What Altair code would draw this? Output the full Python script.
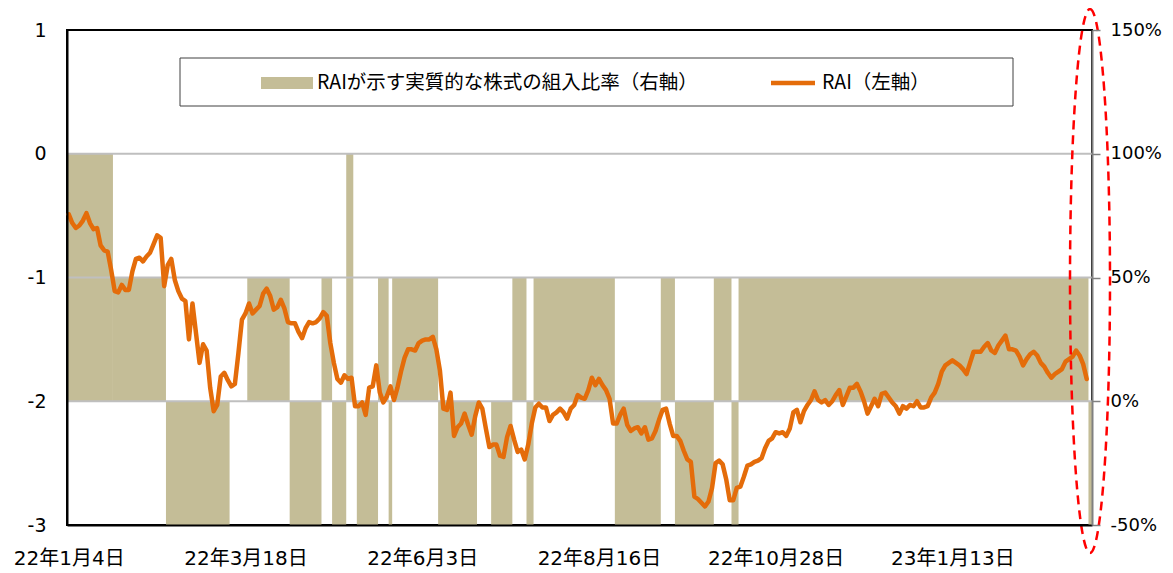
import json
import altair as alt
import pandas as pd

# ---------------- data ----------------
x_tick_labels = ["22年1月4日", "22年3月18日", "22年6月3日", "22年8月16日", "22年10月28日", "23年1月13日"]
x_tick_step = 50

rai_values = [
    -0.49, -0.56, -0.60, -0.58, -0.54, -0.48, -0.56, -0.61, -0.60, -0.74,
    -0.78, -0.79, -0.94, -1.11, -1.12, -1.06, -1.10, -1.10, -0.95, -0.85,
    -0.84, -0.87, -0.83, -0.80, -0.73, -0.66, -0.68, -1.07, -0.90, -0.85,
    -1.02, -1.11, -1.17, -1.19, -1.50, -1.21, -1.45, -1.69, -1.54, -1.59,
    -1.89, -2.08, -2.03, -1.80, -1.77, -1.83, -1.88, -1.86, -1.61, -1.34,
    -1.29, -1.21, -1.29, -1.26, -1.23, -1.13, -1.09, -1.15, -1.26, -1.24,
    -1.18, -1.25, -1.36, -1.37, -1.37, -1.44, -1.49, -1.41, -1.36, -1.37,
    -1.36, -1.33, -1.28, -1.31, -1.53, -1.69, -1.82, -1.85, -1.79, -1.82,
    -1.81, -2.04, -2.04, -2.01, -2.11, -1.89, -1.88, -1.71, -1.93, -2.01,
    -1.96, -1.88, -1.99, -1.89, -1.76, -1.65, -1.58, -1.58, -1.59, -1.53,
    -1.51, -1.50, -1.50, -1.48, -1.58, -1.75, -2.06, -2.07, -1.93, -2.28,
    -2.21, -2.18, -2.10, -2.19, -2.27, -2.12, -2.01, -2.06, -2.22, -2.37,
    -2.35, -2.35, -2.44, -2.45, -2.29, -2.20, -2.31, -2.41, -2.39, -2.47,
    -2.35, -2.18, -2.05, -2.02, -2.05, -2.05, -2.16, -2.11, -2.09, -2.06,
    -2.09, -2.14, -2.06, -2.03, -1.95, -1.97, -1.98, -1.91, -1.81, -1.87,
    -1.82, -1.87, -1.91, -1.98, -2.18, -2.18, -2.11, -2.06, -2.19, -2.24,
    -2.22, -2.21, -2.26, -2.21, -2.31, -2.30, -2.24, -2.15, -2.07, -2.06,
    -2.18, -2.28, -2.28, -2.32, -2.40, -2.47, -2.49, -2.77, -2.79, -2.82,
    -2.85, -2.81, -2.70, -2.50, -2.48, -2.51, -2.63, -2.80, -2.80, -2.70,
    -2.69, -2.61, -2.52, -2.51, -2.49, -2.48, -2.46, -2.38, -2.32, -2.30,
    -2.25, -2.26, -2.25, -2.28, -2.22, -2.09, -2.07, -2.17, -2.08, -2.03,
    -1.99, -1.92, -1.99, -2.01, -1.99, -2.03, -2.00, -1.95, -1.91, -2.03,
    -1.96, -1.89, -1.89, -1.86, -1.92, -2.00, -2.10, -2.04, -1.98, -2.04,
    -1.94, -1.93, -1.97, -2.01, -2.04, -2.10, -2.04, -2.06, -2.03, -2.04,
    -2.00, -2.05, -2.05, -2.04, -1.97, -1.93, -1.86, -1.76, -1.71, -1.69,
    -1.67, -1.69, -1.71, -1.74, -1.78, -1.69, -1.60, -1.60, -1.60, -1.56,
    -1.53, -1.59, -1.61, -1.55, -1.51, -1.47, -1.58, -1.58, -1.59, -1.64,
    -1.71, -1.66, -1.62, -1.60, -1.63, -1.69, -1.72, -1.77, -1.81, -1.78,
    -1.76, -1.74, -1.68, -1.66, -1.64, -1.59, -1.63, -1.70, -1.82,
]

# equity ratio (right axis, %) as runs: value and number of trading days
ratio_run_values = [100, 50, -50, 0, 50, -50, 50, -50, 100, 0, -50, 50, -50, 50,
                    -50, 0, -50, 50, -50, 50, -50, 50, -50, 50, -50, 50, -50]
ratio_run_lengths = [13, 15, 18, 5, 12, 9, 3, 4, 2, 1, 6, 3, 1, 13,
                     11, 4, 6, 4, 2, 23, 13, 4, 11, 5, 2, 99, 1]

left_ticks = [-3, -2, -1, 0, 1]
left_grid = [-2, -1, 0]
right_ticks = [-50, 0, 50, 100, 150]
legend_labels = ["RAIが示す実質的な株式の組入比率（右軸）", "RAI（左軸）"]

# ---------------- tables ----------------
n_days = sum(ratio_run_lengths)
line_df = pd.DataFrame({"pos": [i + 0.5 for i in range(len(rai_values))], "rai": rai_values})

starts, ends = [], []
c = 0
for L in ratio_run_lengths:
    starts.append(c)
    c += L
    ends.append(c)
bar_df = pd.DataFrame({"start": starts, "end": ends, "ratio": ratio_run_values,
                       "base": [0] * len(ratio_run_values)})
grid_df = pd.DataFrame({"g": left_grid})
one = pd.DataFrame({"k": [0]})

W, H = 1025, 495
BAR_C = "#C4BD97"
LINE_C = "#E46C0A"
FONT = "DejaVu Sans, Noto Sans CJK JP, sans-serif"
JFONT = "Noto Sans CJK JP, DejaVu Sans, sans-serif"

x_scale = alt.Scale(domain=[0, n_days], nice=False, zero=False)
label_js = json.dumps(x_tick_labels, ensure_ascii=False)
x_axis = alt.Axis(
    values=[i * x_tick_step + 0.5 for i in range(len(x_tick_labels))],
    labelExpr=f"{label_js}[round((datum.value - 0.5) / {x_tick_step})]",
    ticks=False, grid=False, domainColor="black", domainWidth=2,
    labelFontSize=20, labelPadding=23, labelColor="#000000", labelFont=FONT,
    title=None, zindex=1, labelFlush=False, labelOverlap=False,
)
left_axis = alt.Axis(
    values=left_ticks, ticks=False, grid=False, domainColor="black", domainWidth=2,
    labelExpr="datum.value < 0 ? '-' + abs(datum.value) : '' + datum.value",
    labelFontSize=19, labelPadding=21, labelColor="#000000", labelFont=FONT,
    title=None, zindex=1, orient="left",
)
right_axis = alt.Axis(
    values=right_ticks,
    labelExpr="(datum.value < 0 ? '-' + abs(datum.value) : '' + datum.value) + '%'",
    orient="right",
    tickSize=8, tickColor="#808080", tickWidth=1.5,
    domainColor="#808080", domainWidth=2, grid=False,
    labelFontSize=18, labelPadding=10, labelColor="#000000", labelFont=FONT,
    title=None, zindex=1,
)
y_left_scale = alt.Scale(domain=[-3, 1], nice=False, zero=False)

bars = alt.Chart(bar_df).mark_rect(color=BAR_C).encode(
    x=alt.X("start:Q", scale=x_scale, axis=x_axis),
    x2="end:Q",
    y=alt.Y("ratio:Q", scale=alt.Scale(domain=[-50, 150], nice=False, zero=False), axis=right_axis),
    y2="base:Q",
)

grid = alt.Chart(grid_df).mark_rule(color="#BFBFBF", strokeWidth=2).encode(
    y=alt.Y("g:Q", scale=y_left_scale, axis=left_axis),
    x=alt.value(0), x2=alt.value(W),
)

line = alt.Chart(line_df).mark_line(color=LINE_C, strokeWidth=4.5, strokeJoin="round", strokeCap="round").encode(
    x=alt.X("pos:Q", scale=x_scale, axis=x_axis),
    y=alt.Y("rai:Q", scale=y_left_scale, axis=left_axis),
)

left_layer = alt.layer(grid, line)

# dashed red ellipse annotation around the latest value
rx = 0.0735
k = 0.5523
ell_path = (f"M0,-1C{k*rx:.4f},-1 {rx},-{k} {rx},0C{rx},{k} {k*rx:.4f},1 0,1"
            f"C-{k*rx:.4f},1 -{rx},{k} -{rx},0C-{rx},-{k} -{k*rx:.4f},-1 0,-1Z")
ellipse = alt.Chart(one).mark_point(
    shape=ell_path, filled=False, stroke="#FF0000", strokeWidth=2.5,
    strokeDash=[9, 6], size=544 ** 2, opacity=1,
).encode(x=alt.value(1023), y=alt.value(251))

# legend (drawn)
leg_box = alt.Chart(one).mark_rect(fill="white", stroke="#404040", strokeWidth=1).encode(
    x=alt.value(113), x2=alt.value(946), y=alt.value(28), y2=alt.value(76))
leg_sw1 = alt.Chart(one).mark_rect(fill=BAR_C).encode(
    x=alt.value(194), x2=alt.value(246), y=alt.value(47), y2=alt.value(59))
leg_t1 = alt.Chart(one).mark_text(align="left", baseline="middle", fontSize=19.5, font=JFONT, color="#000000").encode(
    x=alt.value(250), y=alt.value(53), text=alt.value(legend_labels[0]))
leg_sw2 = alt.Chart(one).mark_rule(color=LINE_C, strokeWidth=4.5).encode(
    x=alt.value(704), x2=alt.value(748), y=alt.value(53))
leg_t2 = alt.Chart(one).mark_text(align="left", baseline="middle", fontSize=19.5, font=JFONT, color="#000000").encode(
    x=alt.value(755), y=alt.value(53), text=alt.value(legend_labels[1]))

chart = alt.layer(
    bars, left_layer, leg_box, leg_sw1, leg_t1, leg_sw2, leg_t2, ellipse
).resolve_scale(y="independent").properties(
    width=W, height=H,
    autosize=alt.AutoSizeParams(type="none"),
    padding={"left": 59, "top": 22, "right": 73, "bottom": 48},
    background="white",
).configure_view(stroke="black", strokeWidth=2)

chart.save("out.html", embed_options={"renderer": "svg", "actions": False})
